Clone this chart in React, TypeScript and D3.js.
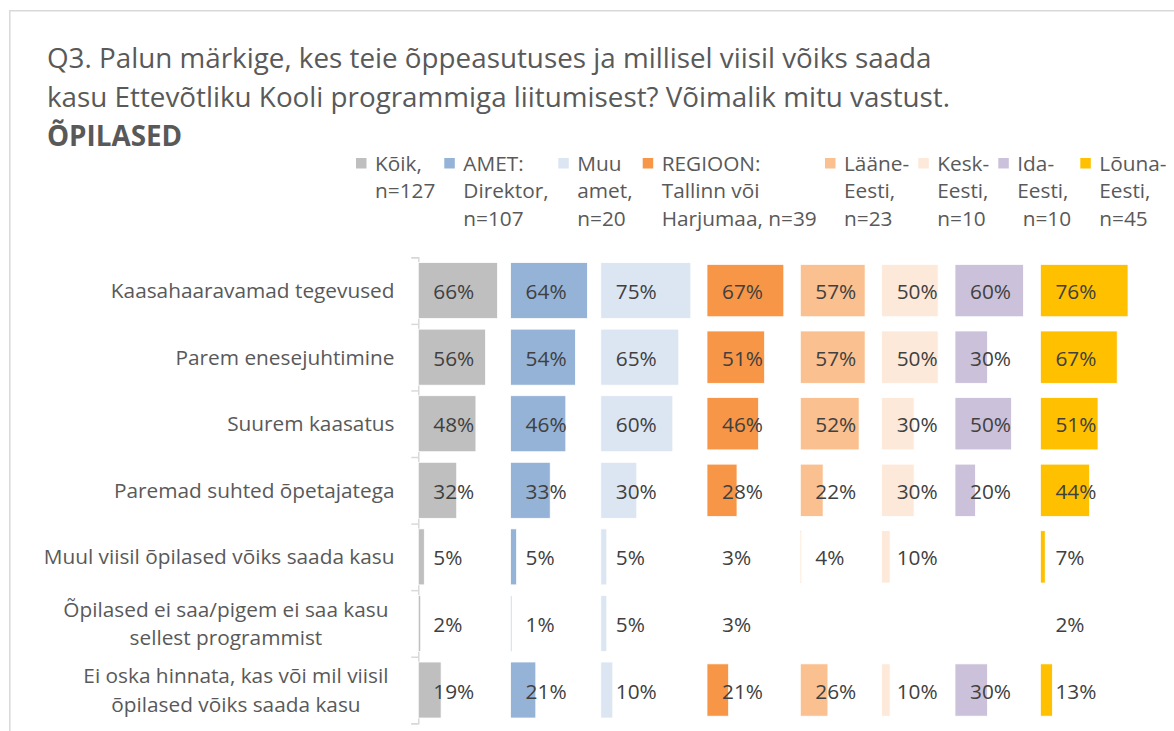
import React, { useEffect, useRef } from "react";
import * as d3 from "d3";

// Answer options (rows); "\n" splits a label over two lines
const categories: string[] = [
  "Kaasahaaravamad tegevused",
  "Parem enesejuhtimine",
  "Suurem kaasatus",
  "Paremad suhted õpetajatega",
  "Muul viisil õpilased võiks saada kasu",
  "Õpilased ei saa/pigem ei saa kasu\nsellest programmist",
  "Ei oska hinnata, kas või mil viisil\nõpilased võiks saada kasu",
];

// Respondent groups, legend text lines
const groupLabels: string[][] = [
  ["Kõik,", "n=127"],
  ["AMET:", "Direktor,", "n=107"],
  ["Muu", "amet,", "n=20"],
  ["REGIOON:", "Tallinn või", "Harjumaa, n=39"],
  ["Lääne-", "Eesti,", "n=23"],
  ["Kesk-", "Eesti,", "n=10"],
  ["Ida-", "Eesti,", " n=10"],
  ["Lõuna-", "Eesti,", "n=45"],
];

const groupColors: string[] = [
  "#BFBFBF",
  "#95B3D7",
  "#DCE6F2",
  "#F79646",
  "#FAC090",
  "#FDE9D9",
  "#CCC1DA",
  "#FFC000",
];

// Shares (%) per group, in category order; null = no answers
const koik: (number | null)[] = [66, 56, 48, 32, 5, 2, 19];
const direktor: (number | null)[] = [64, 54, 46, 33, 5, 1, 21];
const muuAmet: (number | null)[] = [75, 65, 60, 30, 5, 5, 10];
const tallinnHarjumaa: (number | null)[] = [67, 51, 46, 28, 3, 3, 21];
const laaneEesti: (number | null)[] = [57, 57, 52, 22, 4, null, 26];
const keskEesti: (number | null)[] = [50, 50, 30, 30, 10, null, 10];
const idaEesti: (number | null)[] = [60, 30, 50, 20, null, null, 30];
const lounaEesti: (number | null)[] = [76, 67, 51, 44, 7, 2, 13];

const seriesValues = [koik, direktor, muuAmet, tallinnHarjumaa, laaneEesti, keskEesti, idaEesti, lounaEesti];
// first three groups belong to the role breakdown, the rest to the regional one
const isRegional = [false, false, false, true, true, true, true, true];

const titleLines = [
  "Q3. Palun märkige, kes teie õppeasutuses ja millisel viisil võiks saada",
  "kasu Ettevõtliku Kooli programmiga liitumisest? Võimalik mitu vastust.",
];
const titleBold = "ÕPILASED";

// ---- layout ----
const W = 1174;
const H = 731;
const FONT = "'Open Sans', sans-serif";
const TEXT = "#595959";
const LABEL = "#404040";
const GRID = "#D9D9D9";
const AXIS_X = 418.3;
const PLOT_TOP = 257.3;
const PLOT_BOTTOM = 723.3;
const GROUP_X = [418.3, 510.6, 600.8, 707, 800.3, 881.7, 955, 1040.4];
const LEGEND_X = [375, 463.3, 577.3, 661.7, 844, 937.3, 1017.3, 1099.3];
const LABEL_SIZE = 20.8;
const TITLE_SIZE = 27.8;

export default function App() {
  const ref = useRef<SVGSVGElement | null>(null);

  useEffect(() => {
    const svg = d3.select(ref.current);
    svg.selectAll("*").remove();

    // chart area frame
    svg
      .append("path")
      .attr("d", `M9.8,${H} V10.8 H${W}`)
      .attr("fill", "none")
      .attr("stroke", GRID)
      .attr("stroke-width", 1.5);

    // title
    const title = svg
      .append("g")
      .attr("font-family", FONT)
      .attr("fill", TEXT)
      .attr("font-size", TITLE_SIZE);
    titleLines.forEach((t, i) => {
      title.append("text").attr("x", 47).attr("y", 68 + i * 39).text(t);
    });
    title
      .append("text")
      .attr("x", 47)
      .attr("y", 146)
      .attr("font-weight", "bold")
      .text(titleBold);

    // legend
    const legend = svg
      .append("g")
      .attr("font-family", FONT)
      .attr("font-size", LABEL_SIZE)
      .attr("fill", TEXT);
    groupLabels.forEach((lines, i) => {
      const x = LEGEND_X[i];
      legend
        .append("rect")
        .attr("x", x - 19)
        .attr("y", 158)
        .attr("width", 10.5)
        .attr("height", 10.5)
        .attr("fill", groupColors[i]);
      lines.forEach((ln, j) => {
        legend
          .append("text")
          .attr("x", x)
          .attr("y", 170.5 + j * 27.6)
          .style("white-space", "pre")
          .text(ln);
      });
    });

    // category band scale
    const y = d3
      .scaleBand<string>()
      .domain(categories)
      .range([PLOT_TOP, PLOT_BOTTOM])
      .paddingInner(0)
      .paddingOuter(0);

    // value scales: role chart starts at 0, regional chart axis minimum at 3%
    const xRole = d3.scaleLinear().domain([0, 1]).range([0, 120]);
    const xRegion = d3.scaleLinear().domain([0.03, 1]).range([0, 116.4]).clamp(true);

    // vertical category axis with tick marks between categories
    const axis = d3
      .axisLeft(
        d3.scaleLinear().domain([0, categories.length]).range([PLOT_TOP, PLOT_BOTTOM])
      )
      .ticks(categories.length)
      .tickSizeInner(7)
      .tickSizeOuter(7)
      .tickFormat(() => "");
    const ag = svg.append("g").attr("transform", `translate(${AXIS_X},0)`).call(axis as any);
    ag.selectAll("path, line").attr("stroke", GRID).attr("stroke-width", 1.5);

    // category labels
    const catG = svg
      .append("g")
      .attr("font-family", FONT)
      .attr("font-size", LABEL_SIZE)
      .attr("fill", TEXT);
    categories.forEach((c) => {
      const lines = c.split("\n");
      const cy = (y(c) as number) + y.bandwidth() / 2;
      const lh = 28.3;
      if (lines.length === 1) {
        catG
          .append("text")
          .attr("x", 394.5)
          .attr("y", cy + 7.6)
          .attr("text-anchor", "end")
          .text(lines[0]);
      } else {
        const texts = lines.map((ln, j) =>
          catG
            .append("text")
            .attr("y", cy + 7.6 + (j - (lines.length - 1) / 2) * lh)
            .attr("text-anchor", "middle")
            .text(ln)
        );
        const widest = d3.max(texts, (t) => (t.node() as SVGTextElement).getComputedTextLength()) || 0;
        const cx = 394.5 - 6 - widest / 2;
        texts.forEach((t) => t.attr("x", cx));
      }
    });

    // bars and value labels
    const bars = svg.append("g");
    const labels = svg
      .append("g")
      .attr("font-family", FONT)
      .attr("font-size", LABEL_SIZE)
      .attr("fill", LABEL);
    seriesValues.forEach((vals, gi) => {
      const x0 = GROUP_X[gi];
      const sx = isRegional[gi] ? xRegion : xRole;
      const bh = isRegional[gi] ? 52.3 : 56;
      vals.forEach((v, ci) => {
        if (v == null) return;
        const c = categories[ci];
        const cy = (y(c) as number) + y.bandwidth() / 2;
        const w = sx(v / 100);
        if (w > 0) {
          bars
            .append("rect")
            .attr("x", x0)
            .attr("y", cy - bh / 2)
            .attr("width", w)
            .attr("height", bh)
            .attr("fill", groupColors[gi])
            .attr("stroke", "#FFFFFF")
            .attr("stroke-width", 0.75);
        }
        labels
          .append("text")
          .attr("x", x0 + 15)
          .attr("y", cy + 8.5)
          .text(`${v}%`);
      });
    });
  }, []);

  return (
    <svg
      ref={ref}
      width={W}
      height={H}
      style={{ position: "absolute", left: 0, top: 0, background: "#FFFFFF" }}
    />
  );
}
